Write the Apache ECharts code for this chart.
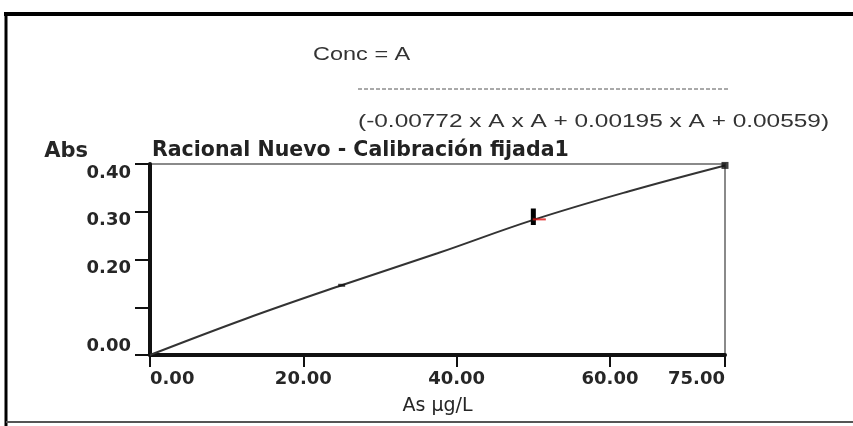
<!DOCTYPE html>
<html><head><meta charset="utf-8">
<script src="https://cdn.jsdelivr.net/npm/echarts@6/dist/echarts.min.js"></script>
<style>html,body{margin:0;padding:0;background:#fff}#c{width:853px;height:426px}</style>
</head><body><div id="c"></div>
<script>
// ---- data ----
const titleText = 'Racional Nuevo - Calibración fijada1';
const eqTop = 'Conc = A';
const eqBottom = '(-0.00772 x A x A + 0.00195 x A + 0.00559)';
const xName = 'As µg/L';
const yName = 'Abs';
const curveConc = [0, 12.5, 25, 37.5, 50, 62.5, 75];
const curveAbs = [0, 0.076, 0.146, 0.213, 0.283, 0.343, 0.397];
const stdConc = [25, 50, 75];
const stdAbs = [0.146, 0.284, 0.397];
const errConc = [50, 50];
const errAbs = [0.272, 0.307];
const hiddenYTicks = [0.1];

const chart = echarts.init(document.getElementById('c'), null, {renderer: 'canvas'});
const labelColor = '#262626';
const pair = (xs, ys) => xs.map((x, i) => [x, ys[i]]);
const stdStyles = [
  {symbol: 'rect', symbolSize: [7, 3]},
  {symbol: 'rect', symbolSize: [4, 4]},
  {symbol: 'rect', symbolSize: [7, 7]}
];

chart.setOption({
  animation: false,
  backgroundColor: '#fff',
  title: {
    text: titleText, left: 152, top: 140, padding: 0,
    textStyle: {fontFamily: 'DejaVu Sans', fontWeight: 'bold', fontSize: 20.5, color: '#222'}
  },
  grid: {left: 150, right: 128, top: 164, bottom: 71, show: true, borderColor: '#8a8a8a', borderWidth: 2, backgroundColor: 'transparent'},
  xAxis: {
    type: 'value', min: 0, max: 75, interval: 20,
    name: xName, nameLocation: 'middle', nameGap: 42,
    nameTextStyle: {fontFamily: 'DejaVu Sans', fontSize: 19, color: labelColor},
    axisLine: {lineStyle: {color: '#111', width: 4}},
    axisTick: {show: true, length: 12, lineStyle: {color: '#111', width: 2}},
    axisLabel: {
      margin: 15, fontFamily: 'DejaVu Sans', fontWeight: 'bold', fontSize: 18, color: labelColor,
      alignMinLabel: 'left', alignMaxLabel: 'right',
      formatter: v => v.toFixed(2)
    },
    splitLine: {show: false}
  },
  yAxis: {
    type: 'value', min: 0, max: 0.4, interval: 0.1,
    name: yName, nameLocation: 'end', nameGap: 2,
    nameTextStyle: {fontFamily: 'DejaVu Sans', fontWeight: 'bold', fontSize: 21, color: labelColor, align: 'right', verticalAlign: 'bottom', padding: [0, 62, 0, 0]},
    axisLine: {show: true, lineStyle: {color: '#111', width: 4}},
    axisTick: {show: true, length: 15, lineStyle: {color: '#111', width: 2}},
    axisLabel: {
      margin: 19, fontFamily: 'DejaVu Sans', fontWeight: 'bold', fontSize: 18, color: labelColor,
      verticalAlign: 'top', verticalAlignMinLabel: 'bottom',
      formatter: v => hiddenYTicks.some(h => Math.abs(h - v) < 1e-9) ? '' : v.toFixed(2)
    },
    splitLine: {show: false}
  },
  series: [
    {
      type: 'line', data: pair(curveConc, curveAbs), smooth: 0.4, showSymbol: false,
      lineStyle: {color: '#333', width: 2}, z: 3
    },
    {
      type: 'line', data: pair(errConc, errAbs), showSymbol: false,
      lineStyle: {color: '#000', width: 5}, z: 4
    },
    {
      type: 'scatter', z: 5,
      data: pair(stdConc, stdAbs).map((v, i) => Object.assign({value: v}, stdStyles[i])),
      itemStyle: {color: '#111'}
    },
    {
      type: 'scatter', z: 6, symbol: 'rect', symbolSize: [13, 2], symbolOffset: [6, 0],
      data: [[stdConc[1], stdAbs[1]]],
      itemStyle: {color: '#e01010'}
    }
  ],
  graphic: [
    {type: 'line', shape: {x1: 4, y1: 14, x2: 853, y2: 14}, style: {stroke: '#000', lineWidth: 4}},
    {type: 'line', shape: {x1: 6, y1: 12, x2: 6, y2: 426}, style: {stroke: '#000', lineWidth: 3}},
    {type: 'line', shape: {x1: 6, y1: 422, x2: 853, y2: 422}, style: {stroke: '#555', lineWidth: 2}},
    {type: 'text', x: 313, y: 55, scaleX: 1.27, style: {text: eqTop, font: '18.5px "Liberation Sans"', fill: '#333', verticalAlign: 'middle'}},
    {type: 'line', shape: {x1: 358, y1: 89, x2: 730, y2: 89}, style: {stroke: '#555', lineWidth: 1, lineDash: [4, 2]}},
    {type: 'text', x: 358, y: 122, scaleX: 1.32, style: {text: eqBottom, font: '18.5px "Liberation Sans"', fill: '#333', verticalAlign: 'middle'}}
  ]
});
</script>
</body></html>
